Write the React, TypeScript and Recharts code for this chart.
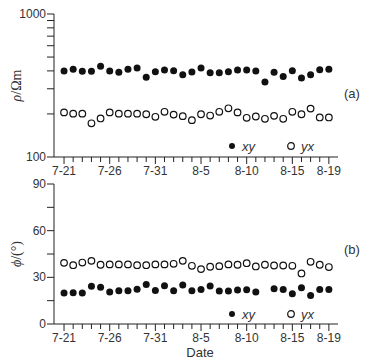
import { ScatterChart, Scatter, XAxis, YAxis, Label } from "recharts";

const dates = [
  "7-21", "7-22", "7-23", "7-24", "7-25", "7-26", "7-27", "7-28", "7-29", "7-30", "7-31",
  "8-1", "8-2", "8-3", "8-4", "8-5", "8-6", "8-7", "8-8", "8-9", "8-10",
  "8-11", "8-12", "8-13", "8-14", "8-15", "8-16", "8-17", "8-18", "8-19",
];
const labeledDates = ["7-21", "7-26", "7-31", "8-5", "8-10", "8-15", "8-19"];
const seriesNames = ["xy", "yx"];

const rhoXY = [399, 410, 397, 397, 431, 399, 391, 410, 419, 361, 395, 406, 401, 376, 393, 419, 389, 389, 395, 406, 406, 399, 334, 391, 366, 401, 357, 376, 408, 410];
const rhoYX = [205, 201, 201, 172, 186, 205, 201, 201, 201, 199, 191, 207, 198, 193, 181, 199, 195, 207, 219, 205, 188, 192, 185, 194, 185, 207, 199, 218, 189, 189];
const phiXY = [19.9, 20.1, 19.9, 24.2, 23.7, 20.5, 21.4, 21.4, 22.4, 25.4, 21.6, 24.6, 21.4, 25.0, 21.4, 22.2, 24.4, 21.2, 21.2, 21.8, 22.0, 20.5, null, 22.7, 22.2, 19.5, 23.3, 18.4, 22.2, 22.2];
const phiYX = [39.3, 37.8, 39.5, 40.6, 38.1, 38.3, 38.3, 38.3, 37.8, 37.8, 38.3, 38.3, 38.7, 40.6, 37.4, 35.3, 36.8, 37.2, 38.3, 38.1, 39.1, 37.0, 38.1, 37.6, 37.6, 37.4, 32.5, 40.0, 38.1, 36.6];

const rhoTicks = [100, 200, 300, 400, 500, 600, 700, 800, 900, 1000];
const rhoLabels = [100, 1000];
const phiTicks = [0, 15, 30, 45, 60, 75, 90];
const phiLabels = [0, 30, 60, 90];

const ink = "#222";
const textInk = "#333";
const sans = "'Liberation Sans', Arial, sans-serif";
const serif = "'Liberation Serif', 'Times New Roman', serif";

const toPoints = (vals: (number | null)[]) =>
  vals.map((v, i) => ({ x: i, y: v })).filter((p) => p.y !== null);

const dayTicks = dates.map((_, i) => i);

const DateTick = (props: any) => {
  const { x, y, payload } = props;
  const major = labeledDates.includes(dates[payload.value]);
  return (
    <g>
      <line x1={x} x2={x} y1={y} y2={y + (major ? 7 : 5)} stroke={ink} strokeWidth={1} />
      {major && (
        <text x={x} y={y + 18} textAnchor="middle" fontSize={12} fill={textInk} fontFamily={sans}>
          {dates[payload.value]}
        </text>
      )}
    </g>
  );
};

const makeValueTick = (labels: number[]) => (props: any) => {
  const { x, y, payload } = props;
  const show = labels.includes(payload.value);
  return (
    <g>
      <line x1={x - 7} x2={x} y1={y} y2={y} stroke={ink} strokeWidth={1} />
      {show && (
        <text x={x - 8} y={y + 4} textAnchor="end" fontSize={12} fill={textInk} fontFamily={sans}>
          {payload.value}
        </text>
      )}
    </g>
  );
};

const Filled = (props: any) => <circle cx={props.cx} cy={props.cy} r={3.5} fill="#111" />;
const Open = (props: any) => (
  <circle cx={props.cx} cy={props.cy} r={3.3} fill="#fff" stroke="#111" strokeWidth={1.2} />
);

// legend drawn as an overlay so it does not eat into the plot area
const LegendOverlay = ({ top }: { top: number }) => (
  <div style={{ position: "absolute", left: 226, top, width: 130, height: 16, fontFamily: sans, fontSize: 13, color: textInk }}>
    {seriesNames.map((name, i) => (
      <div key={name} style={{ position: "absolute", left: i * 59, top: 0, display: "flex", alignItems: "center", height: 16 }}>
        <svg width={12} height={16}>
          {i === 0 ? (
            <circle cx={6} cy={8} r={3} fill="#111" />
          ) : (
            <circle cx={6} cy={8} r={3.3} fill="#fff" stroke="#111" strokeWidth={1.2} />
          )}
        </svg>
        <span style={{ fontStyle: "italic", marginLeft: 4 }}>{name}</span>
      </div>
    ))}
  </div>
);

const yTitle = (main: string, rest: string) => (props: any) => {
  const vb = props.viewBox || {};
  const cy = vb.y + vb.height / 2;
  const cx = 21;
  return (
    <text x={cx} y={cy} transform={`rotate(-90, ${cx}, ${cy})`} textAnchor="middle" fontSize={14} fill={textInk}>
      <tspan fontFamily={serif} fontStyle="italic">{main}</tspan>
      <tspan fontFamily={serif}>{rest}</tspan>
    </text>
  );
};

const tag = (text: string, top: number) => (
  <div style={{ position: "absolute", left: 344, top, fontFamily: sans, fontSize: 13, color: textInk }}>{text}</div>
);

export default function App() {
  return (
    <div style={{ position: "absolute", left: 0, top: 0, width: 373, height: 361, background: "#fff", fontFamily: sans }}>
      <div style={{ position: "absolute", left: 0, top: 0 }}>
        <ScatterChart width={373} height={180} margin={{ top: 14, right: 35, bottom: 0, left: 0 }}>
          <XAxis
            type="number"
            dataKey="x"
            domain={[-1.1, 30]}
            ticks={dayTicks}
            interval={0}
            allowDataOverflow
            height={23}
            tickSize={0}
            tickMargin={0}
            tickLine={false}
            tick={<DateTick />}
            axisLine={{ stroke: ink }}
          />
          <YAxis
            type="number"
            dataKey="y"
            scale="log"
            domain={[100, 1000]}
            ticks={rhoTicks}
            interval={0}
            allowDataOverflow
            width={54}
            tickSize={0}
            tickMargin={0}
            tickLine={false}
            tick={makeValueTick(rhoLabels)}
            axisLine={{ stroke: ink }}
          >
            <Label content={yTitle("ρ", "/Ωm")} />
          </YAxis>
          <Scatter name={seriesNames[0]} data={toPoints(rhoXY)} shape={Filled} isAnimationActive={false} />
          <Scatter name={seriesNames[1]} data={toPoints(rhoYX)} shape={Open} isAnimationActive={false} />
        </ScatterChart>
      </div>
      <LegendOverlay top={138} />
      {tag("(a)", 86)}
      <div style={{ position: "absolute", left: 0, top: 170 }}>
        <ScatterChart width={373} height={191} margin={{ top: 14, right: 35, bottom: 14, left: 0 }}>
          <XAxis
            type="number"
            dataKey="x"
            domain={[-1.1, 30]}
            ticks={dayTicks}
            interval={0}
            allowDataOverflow
            height={23}
            tickSize={0}
            tickMargin={0}
            tickLine={false}
            tick={<DateTick />}
            axisLine={{ stroke: ink }}
          >
            <Label
              content={(p: any) => {
                const vb = p.viewBox || {};
                return (
                  <text x={vb.x + vb.width / 2 + 4} y={vb.y + 33} textAnchor="middle" fontSize={13} fill={textInk} fontFamily={sans}>
                    Date
                  </text>
                );
              }}
            />
          </XAxis>
          <YAxis
            type="number"
            dataKey="y"
            domain={[0, 90]}
            ticks={phiTicks}
            interval={0}
            allowDataOverflow
            width={54}
            tickSize={0}
            tickMargin={0}
            tickLine={false}
            tick={makeValueTick(phiLabels)}
            axisLine={{ stroke: ink }}
          >
            <Label content={yTitle("ϕ", "/(°)")} />
          </YAxis>
          <Scatter name={seriesNames[0]} data={toPoints(phiXY)} shape={Filled} isAnimationActive={false} />
          <Scatter name={seriesNames[1]} data={toPoints(phiYX)} shape={Open} isAnimationActive={false} />
        </ScatterChart>
      </div>
      <LegendOverlay top={306} />
      {tag("(b)", 242)}
    </div>
  );
}
